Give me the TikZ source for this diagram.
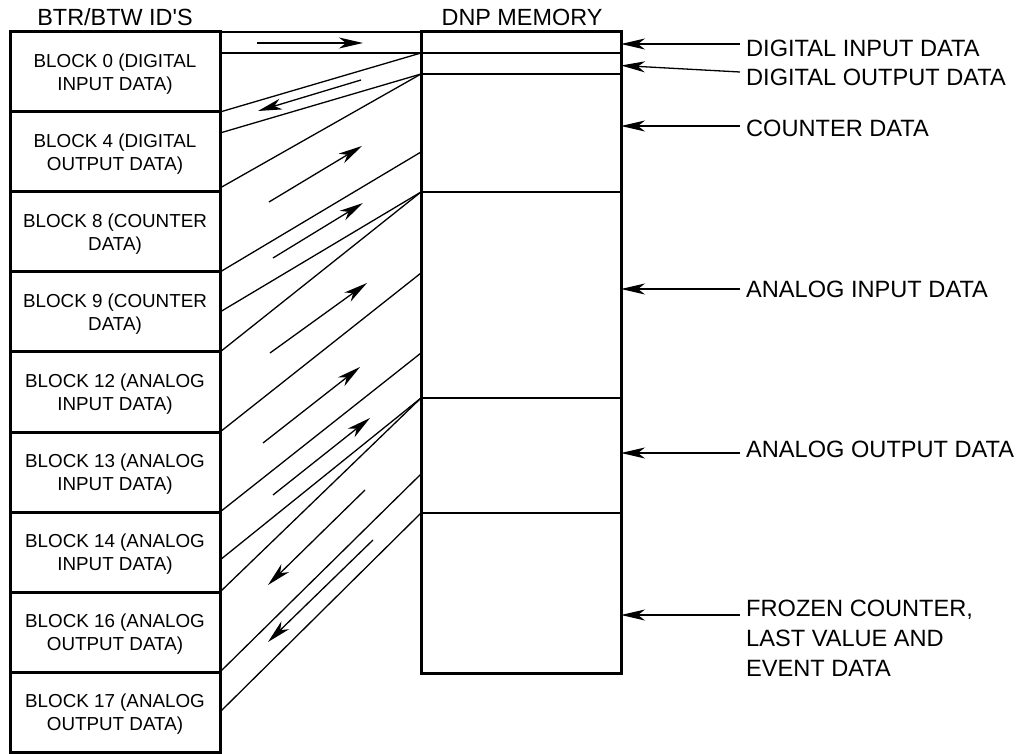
\documentclass[tikz,border=0pt]{standalone}
\usepackage{fontspec}
\setmainfont{Liberation Sans}
\usetikzlibrary{positioning,arrows.meta}

\begin{document}
\begin{tikzpicture}[
  x=1pt, y=-1pt,
  node distance=0pt,
  blk/.style={draw, line width=3pt, outer sep=0pt, inner sep=0pt,
              minimum width=210pt, minimum height=80pt, align=center,
              text depth=0pt, font=\fontsize{18.8}{23.3}\selectfont},
  mem/.style={draw, line width=1.3pt, outer sep=0pt, inner sep=0pt,
              minimum width=200pt},
  hd/.style={anchor=base, inner sep=0pt, font=\fontsize{23.4}{28}\selectfont},
  lbl/.style={inner sep=0pt, align=left, font=\fontsize{23.6}{30}\selectfont},
  link/.style={line width=1.3pt},
  arr/.style={-{Stealth[length=24pt, width=11pt, inset=7pt]}, line width=1.3pt}
]
  \useasboundingbox (0,0) rectangle (1021,754);

  % BTR/BTW blocks
  \node[hd] (btrhd) at (115,26) {BTR/BTW ID\textquotesingle S};
  \node[blk] (b0) at (115,72) {BLOCK 0 (DIGITAL\\ INPUT DATA)};
  \node[blk, below=of b0] (b4) {BLOCK 4 (DIGITAL\\ OUTPUT DATA)};
  \node[blk, below=of b4] (b8) {BLOCK 8 (COUNTER\\ DATA)};
  \node[blk, below=of b8] (b9) {BLOCK 9 (COUNTER\\ DATA)};
  \node[blk, below=of b9] (b12) {BLOCK 12 (ANALOG\\ INPUT DATA)};
  \node[blk, below=of b12] (b13) {BLOCK 13 (ANALOG\\ INPUT DATA)};
  \node[blk, below=of b13] (b14) {BLOCK 14 (ANALOG\\ INPUT DATA)};
  \node[blk, below=of b14] (b16) {BLOCK 16 (ANALOG\\ OUTPUT DATA)};
  \node[blk, below=of b16] (b17) {BLOCK 17 (ANALOG\\ OUTPUT DATA)};

  % DNP memory
  \node[hd] (dnphd) at (522,26) {DNP MEMORY};
  \node[mem, minimum height=21pt] (mdi) at (521,42.5) {};
  \node[mem, minimum height=21pt, below=of mdi] (mdo) {};
  \node[mem, minimum height=118pt, below=of mdo] (mcnt) {};
  \node[mem, minimum height=206pt, below=of mcnt] (mai) {};
  \node[mem, minimum height=115pt, below=of mai] (mao) {};
  \node[mem, minimum height=160pt, below=of mao] (mfrz) {};
  \draw[line width=3pt] (mdi.north west) rectangle (mfrz.south east);

  % mapping lines
  \draw[link] (b0.north east) -- (mdi.north west);
  \draw[link] (b0.east |- mdi.south west) -- (mdi.south west);
  \draw[link] (b0.south east) -- (mdi.south west);
  \draw[link] ([yshift=-21pt]b4.north east) -- (mdo.south west);
  \draw[link] ([yshift=4pt]b4.south east) -- (mdo.south west);
  \draw[link] (b8.south east) -- ([yshift=40pt]mcnt.south west);
  \draw[link] (b9.east) -- (mcnt.south west);
  \draw[link] (b9.south east) -- (mcnt.south west);
  \draw[link] (b12.south east) -- ([yshift=-81pt]mai.north west);
  \draw[link] (b13.south east) -- ([yshift=45pt]mai.south west);
  \draw[link] ([yshift=-8pt]b14.east) -- (mai.south west);
  \draw[link] (b14.south east) -- (mai.south west);
  \draw[link] (b16.south east) -- ([yshift=39pt]mao.south west);
  \draw[link] (b17.east) -- (mfrz.north west);

  % direction arrows
  \draw[arr] (257,43) -- (363,43);
  \draw[arr] (361,80) -- (258,111);
  \draw[arr] (269,202) -- (362,146);
  \draw[arr] (273,258) -- (363,203);
  \draw[arr] (270,353) -- (367,283);
  \draw[arr] (263,443) -- (360,367);
  \draw[arr] (273,495) -- (370,418);
  \draw[arr] (365,490) -- (268,585);
  \draw[arr] (373,540) -- (268,642);

  % memory labels
  \node[lbl, anchor=west] (dil) at (746,48) {DIGITAL INPUT DATA};
  \node[lbl, anchor=west] (dol) at (746,77) {DIGITAL OUTPUT DATA};
  \node[lbl, anchor=west] (cntl) at (746,128) {COUNTER DATA};
  \node[lbl, anchor=west] (ail) at (746,289) {ANALOG INPUT DATA};
  \node[lbl, anchor=west] (aol) at (746,449) {ANALOG OUTPUT DATA};
  \node[lbl, anchor=north west] (frzl) at (746,600) {FROZEN COUNTER,\\ LAST VALUE AND\\ EVENT DATA};

  \draw[arr] ([xshift=-6pt,yshift=4pt]dil.west) -- ([yshift=4pt]dil.west -| mdi.east);
  \draw[arr] ([xshift=-6pt,yshift=5pt]dol.west) -- ([yshift=-2pt]mdo.east);
  \draw[arr] ([xshift=-6pt,yshift=2pt]cntl.west) -- ([yshift=2pt]cntl.west -| mcnt.east);
  \draw[arr] ([xshift=-6pt]ail.west) -- (ail.west -| mai.east);
  \draw[arr] ([xshift=-6pt,yshift=-4pt]aol.west) -- ([yshift=-4pt]aol.west -| mao.east);
  \draw[arr] ([xshift=-6pt,yshift=-15pt]frzl.north west) -- ([yshift=-15pt]frzl.north west -| mfrz.east);
\end{tikzpicture}
\end{document}
